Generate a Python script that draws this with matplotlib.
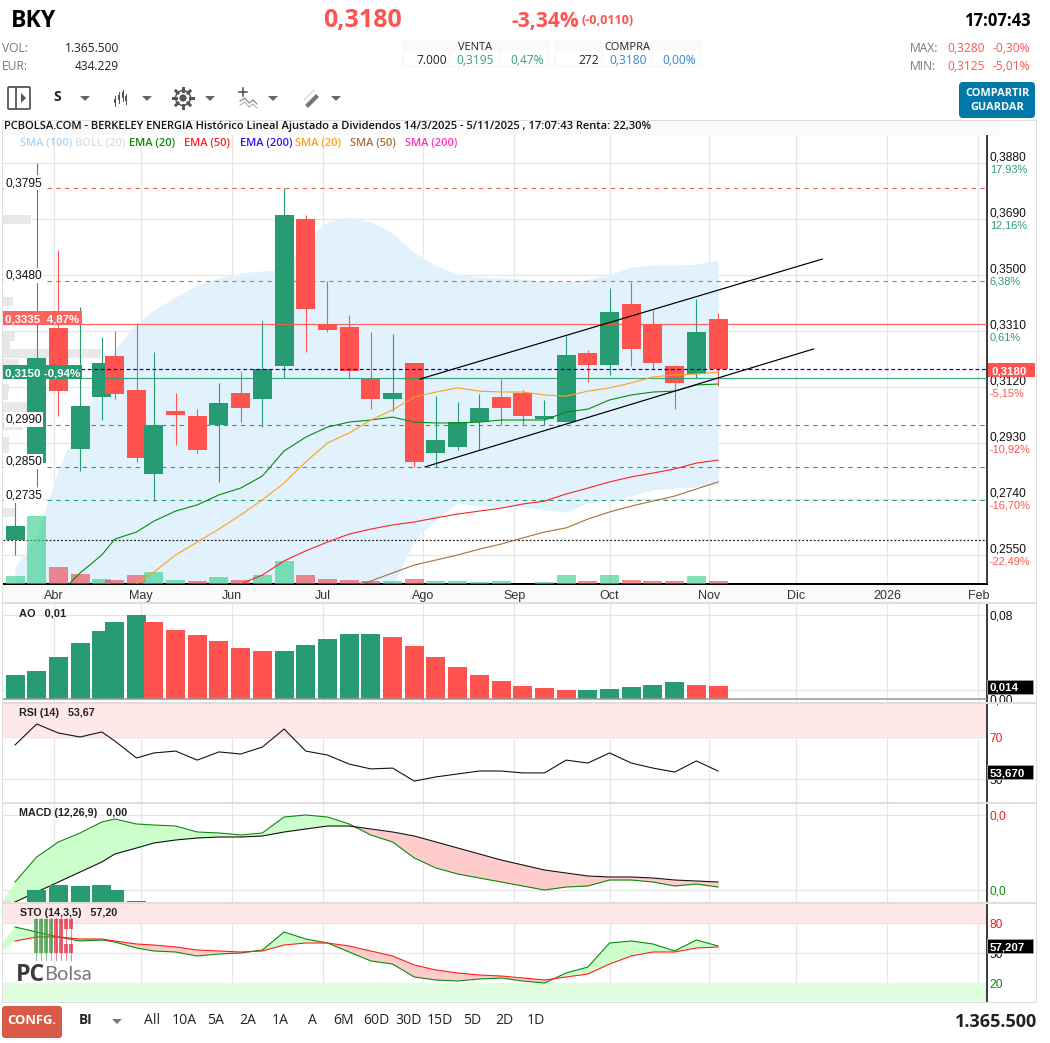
import matplotlib
matplotlib.use("Agg")
import matplotlib.pyplot as plt
import numpy as np
from matplotlib.patches import Rectangle, FancyBboxPatch, Polygon, Circle

W, H = 1050, 1043

# ---------- data ----------
sessions = [0,5,10,15,20,23,28,32,37,42,47,52,57,62,67,72,77,82,87,92,97,102,107,112,117,122,127,132,137,142,147,152,157,162]
opens  = [.2601,.2862,.3320,.2910,.3086,.3225,.3110,.2825,.3039,.3022,.2991,.3100,.3079,.3191,.3690,.3334,.3324,.3147,.3079,.3201,.2896,.2916,.3001,.3086,.3100,.3011,.3001,.3235,.3195,.3402,.3334,.3191,.3164,.3351]
closes = [.2648,.3218,.3106,.3056,.3201,.3096,.2879,.2991,.3025,.2906,.3066,.3049,.3181,.3704,.3385,.3313,.3174,.3079,.3100,.2866,.2940,.3001,.3049,.3049,.3022,.3022,.3229,.3195,.3374,.3249,.3201,.3134,.3307,.3180]
highs  = [.2735,.3880,.3585,.3391,.3290,.3310,.3337,.3239,.3100,.3045,.3134,.3174,.3344,.3795,.3704,.3480,.3364,.3307,.3300,.3201,.3089,.3069,.3096,.3147,.3110,.3076,.3293,.3246,.3456,.3476,.3381,.3195,.3419,.3371]
lows   = [.2550,.2781,.3022,.2835,.3008,.3079,.2866,.2733,.2923,.2896,.2798,.3001,.2984,.3151,.3239,.3307,.3151,.3045,.3039,.2849,.2849,.2906,.2906,.2991,.2991,.2991,.3001,.3137,.3161,.3191,.3181,.3045,.3151,.3123]
volume_m = [3.6,30.9,7.7,4.6,2.3,1.8,4.1,5.5,1.8,1.4,3.2,1.8,4.1,10.5,4.1,2.3,1.8,1.4,1.4,2.3,1.4,1.4,.9,1.4,0,.9,4.1,1.4,4.1,1.8,1.4,1.4,3.6,1.4]
volume_up = [1,1,0,0,1,0,0,1,1,0,1,0,1,1,0,0,0,0,1,0,1,1,1,1,1,1,1,0,1,0,0,0,1,0]
band_upper = [.2509,.2618,.2838,.3008,.3134,.3246,.3337,.3381,.3425,.3466,.3490,.3507,.3514,.3517,.3619,.3680,.3697,.3680,.3642,.3575,.3531,.3503,.3493,.3490,.3486,.3480,.3476,.3486,.3500,.3527,.3534,.3534,.3537,.3551]
band_lower = [.2400,.2380,.2300,.2250,.2200,.2180,.2150,.2120,.2100,.2100,.2120,.2150,.2180,.2200,.2220,.2250,.2300,.2350,.2441,.2601,.2669,.2726,.2716,.2713,.2713,.2703,.2696,.2726,.2737,.2750,.2771,.2777,.2781,.2787]
nan = float('nan')
ema20 = [nan,nan,.2415,.2489,.2550,.2604,.2628,.2665,.2699,.2720,.2754,.2777,.2818,.2903,.2950,.2984,.3001,.3008,.3018,.3001,.2998,.2998,.3001,.3008,.3008,.3008,.3035,.3045,.3076,.3093,.3103,.3106,.3127,.3130]
sma20 = [nan,nan,nan,nan,nan,nan,.2455,.2492,.2550,.2594,.2638,.2686,.2737,.2794,.2866,.2930,.2964,.3008,.3042,.3086,.3103,.3117,.3106,.3103,.3103,.3093,.3089,.3106,.3117,.3134,.3154,.3161,.3164,.3171]
ema50 = [nan]*10+[.2420,.2452,.2482,.2530,.2564,.2594,.2621,.2638,.2652,.2662,.2676,.2689,.2699,.2709,.2723,.2733,.2757,.2777,.2798,.2815,.2828,.2842,.2862,.2872]
sma50 = [nan]*16+[.2441,.2462,.2489,.2516,.2533,.2550,.2570,.2587,.2608,.2628,.2642,.2672,.2696,.2716,.2733,.2750,.2774,.2798]
price_levels_red = [.3795,.3480]
price_levels_green = [.2990,.2850,.2735]
price_last = .3180
price_ref_red = .3335
price_ref_green = .3150
price_dotted = .2601
channel_upper = ([93.3,186],[.3147,.3554])
channel_lower = ([94.5,184],[.2849,.3249])
right_prices = [.3880,.3690,.3500,.3310,.3120,.2930,.2740,.2550]
right_labels = ['0,3880','0,3690','0,3500','0,3310','0,3120','0,2930','0,2740','0,2550']
right_pcts = ['17,93%','12,16%','6,38%','0,61%','-5,15%','-10,92%','-16,70%','-22,49%']
profile_prices = [.3690,.3410,.3290,.3265,.3235,.3200,.3115,.3090,.3055,.3025,.2990,.2935,.2910,.2695]
profile_size = [28,10,12,7,98,16,6,5,27,27,20,6,6,12]
month_sessions = [9,29,50,71,94,115,137,160,180,201,222]
month_labels = ['Abr','May','Jun','Jul','Ago','Sep','Oct','Nov','Dic','2026','Feb']
ao = [.0229,.0267,.0400,.0533,.0648,.0733,.0800,.0733,.0657,.0610,.0552,.0486,.0457,.0457,.0514,.0571,.0619,.0619,.0590,.0505,.0400,.0305,.0229,.0171,.0124,.0105,.0086,.0086,.0095,.0114,.0133,.0162,.0133,.0124]
ao_up = [1,1,1,1,1,1,1,0,0,0,0,0,0,1,1,1,1,1,0,0,0,0,0,0,0,0,0,1,1,1,1,1,0,0]
rsi = [66.2,76.2,71.9,70,72.4,68.1,60,62.4,63.3,59,62.9,61.9,65.2,73.8,63.3,61.4,57.1,54.8,55.2,49,51,52.4,53.8,53.8,52.9,52.9,59,57.6,62.4,57.6,55.2,53.3,58.6,53.8]
macd = [.0016,.0066,.0096,.0114,.0136,.0142,.0132,.0130,.0128,.0116,.0114,.0110,.0114,.0146,.0150,.0146,.0132,.0110,.0096,.0064,.0044,.0032,.0024,.0016,.0008,0,.0006,.0008,.0020,.0020,.0016,.0008,.0012,.0006]
signal = [-.0024,-.0004,.0016,.0036,.0056,.0072,.0084,.0094,.0100,.0104,.0106,.0106,.0108,.0116,.0122,.0128,.0128,.0122,.0116,.0108,.0096,.0084,.0072,.0060,.0050,.0040,.0034,.0028,.0026,.0026,.0024,.0020,.0018,.0016]
macd_hist = [0,.0024,.0034,.0032,.0034,.0024,.0002]
sto_k = [76,71,66,62,63,61,55,52,51,47,49,50,53,71,64,60,51,42,39,26,23,22,24,25,22,20,30,36,60,62,59,52,63,57]
sto_d = [62,66,66,64,64,62,59,58,56,53,52,51,52,58,60,60,57,52,47,38,33,30,28,27,25,23,26,29,39,47,51,51,55,56]

# ---------- styles ----------
GREEN = '#279c72'; RED = '#ff5350'; GRID = '#e6e6e6'; SEP = '#dedede'
CHART = ['Liberation Sans']; UI = ['Open Sans', 'DejaVu Sans']
plt.rcParams['font.family'] = UI
px = lambda p: p * 0.72

fig = plt.figure(figsize=(W/100, H/100), dpi=100, facecolor='white')

def box(x0, y0, x1, y1):
    return [x0/W, 1-y1/H, (x1-x0)/W, (y1-y0)/H]

# strip behind the month labels, painted below every axes
fig.add_artist(Rectangle((3/W, 1-602/H), 984/W, 17/H, transform=fig.transFigure, facecolor='#fafafa', lw=0, zorder=-5))

S_PER_PX = 1/4.34
XLIM = ((3-15)*S_PER_PX, (987-15)*S_PER_PX)
BAR_W = 19*S_PER_PX
s = np.array(sessions)

def panel(y0, y1, ylim):
    ax = fig.add_axes(box(3, y0, 987, y1))
    ax.set_xlim(*XLIM); ax.set_ylim(*ylim)
    for sp in ('top', 'left', 'bottom'):
        ax.spines[sp].set_visible(False)
    ax.spines['right'].set_color('black'); ax.spines['right'].set_linewidth(px(1.5))
    ax.yaxis.tick_right()
    ax.set_xticks(month_sessions); ax.set_xticklabels([])
    ax.tick_params(length=0, pad=2, labelsize=px(12))
    ax.grid(True, color=GRID, lw=px(1.2), zorder=0)
    ax.set_axisbelow(True)
    ax.patch.set_visible(False)
    return ax

TICK = dict(family=CHART, fontsize=px(12), color='#111111')

# ---------- price panel ----------
k = 0.019/56
ax = panel(121, 584, (.388-421*k, .388+42*k))
ax.set_xticklabels(month_labels, fontsize=px(12.5), family=CHART, color='#333333')
ax.tick_params(axis='x', pad=4)
ax.spines['bottom'].set_visible(True); ax.spines['bottom'].set_linewidth(px(2)); ax.spines['bottom'].set_color('black')
ax.barh(profile_prices, np.array(profile_size)*S_PER_PX, left=XLIM[0], height=9*k, color='#e8e8e8', zorder=1)
ax.fill_between(s, band_lower, band_upper, color='#e1f2fd', lw=0, zorder=1.2)
for v in price_levels_red:
    ax.axhline(v, color='#e8605c', lw=px(1.1), ls=(0, (4, 4)), zorder=2)
for v in price_levels_green:
    ax.axhline(v, color='#2a9d74', lw=px(1.1), ls=(0, (4, 4)), zorder=2)
ax.axhline(price_dotted, color='#222222', lw=px(1.2), ls=(0, (1.6, 1.6)), zorder=2)

vol_ax = ax.twinx()
vol_ax.set_ylim(0, 463*.455)
vol_ax.set_yticks([]); vol_ax.patch.set_visible(False)
for sp in vol_ax.spines.values():
    sp.set_visible(False)
vol_cols = ['#3ed08f' if u else '#ee4b55' for u in volume_up]
vol_ax.bar(s, volume_m, width=BAR_W, color=vol_cols, alpha=.65, lw=0)

# twinx moved the price ticks to the left, so put them back
ax.yaxis.tick_right()
ax.set_yticks(right_prices)
ax.set_yticklabels(right_labels, va='bottom', **TICK)
ax.tick_params(axis='y', length=0, pad=2)
for p, t, col in zip(right_prices, right_pcts, ['#2a9d74']*4+['#ff5350']*4):
    ax.annotate(t, xy=(1, p), xycoords=('axes fraction', 'data'), xytext=(2, -1), textcoords='offset points',
                va='top', ha='left', fontsize=px(11), family=CHART, color=col, annotation_clip=False)

# candles sit on a top axes with the same limits, above the volume layer
top = fig.add_axes(box(3, 121, 987, 584))
top.set_xlim(ax.get_xlim()); top.set_ylim(ax.get_ylim()); top.axis('off')
for x, o, c, hi, lo in zip(s, opens, closes, highs, lows):
    col = GREEN if c >= o else RED
    top.vlines(x, lo, hi, color=col, lw=px(1.1), zorder=3)
    top.bar(x, abs(c-o), bottom=min(o, c), width=BAR_W, color=col, lw=0, zorder=3)
top.axhline(price_ref_red, color=RED, lw=px(1.2), alpha=.9, zorder=4)
top.axhline(price_ref_green, color=GREEN, lw=px(1.2), alpha=.9, zorder=4)
top.axhline(price_last, color='#0000cc', lw=px(1.2), ls=(0, (3.2, 2.2)), zorder=4)
top.plot(s, ema20, color='#078a07', lw=px(1.1), zorder=5)
top.plot(s, sma20, color='#ff9f1a', lw=px(1.1), zorder=5)
top.plot(s, ema50, color='#ff2020', lw=px(1.1), zorder=5)
top.plot(s, sma50, color='#a5703a', lw=px(1.1), zorder=5)
top.plot(*channel_upper, color='black', lw=px(1.2), zorder=6)
top.plot(*channel_lower, color='black', lw=px(1.2), zorder=6)

# ---------- AO ----------
a_k = .08/84
ao_ax = panel(604, 702, (-3*a_k, 95*a_k))
ao_ax.set_yticks([.08, 0]); ao_ax.set_yticklabels(['0,08', '0,00'], **TICK)
ao_ax.axhline(.0086, color=GRID, lw=px(1.2), zorder=0)
ao_ax.bar(s, ao, width=BAR_W, color=[GREEN if u else RED for u in ao_up], lw=0, zorder=3)
ao_ax.axhline(0, color='#999999', lw=px(1.5), zorder=4)

# ---------- RSI ----------
rsi_ax = panel(704, 802, (70-65/2.1, 70+33/2.1))
rsi_ax.set_yticks([70, 50]); rsi_ax.set_yticklabels(['70', '50'], **TICK)
rsi_ax.get_yticklabels()[0].set_color('#ee1c1c')
rsi_ax.axhspan(70, 70+33/2.1, color='#fee8e8', lw=0, zorder=1)
rsi_ax.plot(s, rsi, color='#111111', lw=px(1.1), zorder=3)

# ---------- MACD ----------
macd_ax = panel(804, 902, (-.0024, .0172))
macd_ax.set_yticks([.015, 0]); macd_ax.set_yticklabels(['0,0', '0,0'], **TICK)
macd_ax.get_yticklabels()[0].set_color('#ee1c1c'); macd_ax.get_yticklabels()[1].set_color('#0a8a0a')
ms = np.r_[-3, s]; m1 = np.r_[-.0022, macd]; m2 = np.r_[-.0040, signal]
macd_ax.fill_between(ms, m1, m2, where=m1 >= m2, interpolate=True, color='#ccffcc', lw=0, zorder=1)
macd_ax.fill_between(ms, m1, m2, where=m1 <= m2, interpolate=True, color='#ffcccc', lw=0, zorder=1)
macd_ax.plot(s, macd, color='#078a07', lw=px(1.1), zorder=3)
macd_ax.plot(s, signal, color='#111111', lw=px(1.1), zorder=3)
macd_ax.bar(s[:len(macd_hist)], macd_hist, bottom=-.0024, width=BAR_W, color=GREEN, lw=0, zorder=4)

# ---------- STO ----------
sto_ax = panel(904, 1002, (1, 99))
sto_ax.set_yticks([80, 50, 20]); sto_ax.set_yticklabels(['80', '50', '20'], **TICK)
sto_ax.get_yticklabels()[0].set_color('#ee1c1c'); sto_ax.get_yticklabels()[2].set_color('#0a8a0a')
sto_ax.axhspan(80, 99, color='#fee8e8', lw=0, zorder=1)
sto_ax.axhspan(1, 20, color='#e0fde0', lw=0, zorder=1)
ss = np.r_[-3, s]; k1 = np.r_[60, sto_k]; d1 = np.r_[52, sto_d]
sto_ax.fill_between(ss, k1, d1, where=k1 >= d1, interpolate=True, color='#ccffcc', lw=0, zorder=2)
sto_ax.fill_between(ss, k1, d1, where=k1 <= d1, interpolate=True, color='#ffcccc', lw=0, zorder=2)
sto_ax.plot(s, sto_k, color='#078a07', lw=px(1.1), zorder=3)
sto_ax.plot(s, sto_d, color='#ff1c1c', lw=px(1.1), zorder=3)

# ---------- overlay: page furniture ----------
ov = fig.add_axes([0, 0, 1, 1], zorder=10)
ov.set_xlim(0, W); ov.set_ylim(H, 0); ov.axis('off'); ov.patch.set_visible(False)

def T(x, y, t, size=12, color='#111111', ha='left', weight='normal', fam=UI, **kw):
    dy = 1 if fam is CHART else 2
    return ov.text(x, y+dy, t, fontsize=px(size), color=color, ha=ha, va='center', fontweight=weight, family=fam, **kw)
def R(x0, y0, x1, y1, color, z=1, **kw):
    ov.add_patch(Rectangle((x0, y0), x1-x0, y1-y0, facecolor=color, lw=0, zorder=z, **kw))
def RR(x0, y0, x1, y1, color, r=3, z=1):
    ov.add_patch(FancyBboxPatch((x0+r, y0+r), x1-x0-2*r, y1-y0-2*r, boxstyle=f'round,pad={r}', facecolor=color, lw=0, zorder=z))
def tri(cx, cy=98, color='#666666'):
    ov.add_patch(Polygon([(cx-5, cy-2), (cx+5, cy-2), (cx, cy+3)], facecolor=color, lw=0))

# frames
R(3, 120, 1037, 121, SEP); R(3, 121, 1000, 135, '#fafafa')
for y in (603, 703, 802.5, 903):
    R(3, y-1, 1037, y+1, SEP)
R(2, 120, 3.2, 1003, SEP); R(1036, 120, 1037.2, 1003, SEP); R(3, 1002, 1037, 1003.2, SEP)

# header
T(11, 19, 'BKY', 23, '#000000', weight='bold')
T(362, 19, '0,3180', 25, RED, 'center', 'bold')
T(545, 19, '-3,34%', 21, RED, 'center', 'bold')
T(608, 19, '(-0,0110)', 12.5, RED, 'center', 'bold')
T(1031, 19, '17:07:43', 16.5, '#000000', 'right', 'bold')
T(2, 47, 'VOL:', 12, '#777777'); T(119, 47, '1.365.500', 12, '#222222', 'right')
T(2, 65, 'EUR:', 12, '#777777'); T(119, 65, '434.229', 12, '#222222', 'right')
T(910, 47, 'MAX:', 12, '#777777'); T(985, 47, '0,3280', 12, RED, 'right'); T(1030, 47, '-0,30%', 12, RED, 'right')
T(910, 65, 'MIN:', 12, '#777777'); T(985, 65, '0,3125', 12, RED, 'right'); T(1030, 65, '-5,01%', 12, RED, 'right')
RR(401, 40, 550, 68, '#fafafa'); RR(553, 40, 702, 68, '#fafafa')
for a, b in ((404, 448), (452, 497), (501, 546), (556, 600), (604, 649), (653, 698)):
    R(a, 51, b, 65, 'white', 2)
T(475, 45, 'VENTA', 11, '#222222', 'center'); T(627, 45, 'COMPRA', 11, '#222222', 'center')
T(447, 59, '7.000', 12, '#222222', 'right', zorder=3); T(494, 59, '0,3195', 12, '#36a27a', 'right', zorder=3); T(544, 59, '0,47%', 12, '#36a27a', 'right', zorder=3)
T(599, 59, '272', 12, '#222222', 'right', zorder=3); T(647, 59, '0,3180', 12, '#2e86de', 'right', zorder=3); T(696, 59, '0,00%', 12, '#2e86de', 'right', zorder=3)
RR(959, 82, 1035, 118, '#0079a8', 4)
T(997, 92, 'COMPARTIR', 11, 'white', 'center', 'bold', zorder=3); T(997, 106, 'GUARDAR', 11, 'white', 'center', 'bold', zorder=3)

# toolbar
ov.add_patch(FancyBboxPatch((9, 88), 20, 20, boxstyle='round,pad=1', fill=False, ec='#555555', lw=px(1.8)))
ov.plot([15.5, 15.5], [87, 109], color='#555555', lw=px(1.8))
ov.add_patch(Polygon([(21, 93), (26, 98), (21, 103)], facecolor='#555555', lw=0))
T(57, 95, 'S', 14, '#222222', 'center', 'bold')
for c in (85, 147, 210, 273, 336):
    tri(c)
for x, a, b, c0, d0 in ((115, 99, 103, 96, 106), (119, 95, 100, 92, 103), (123, 92, 98, 90, 101), (126, 96, 101, 94, 104)):
    ov.plot([x, x], [c0, d0], color='#555555', lw=px(1))
    R(x-1, a, x+1, b, '#555555')
ang = np.deg2rad(np.arange(0, 360, 45))
for t in ang:
    ov.plot([183+7*np.cos(t), 183+10*np.cos(t)], [98+7*np.sin(t), 98+10*np.sin(t)], color='#555555', lw=px(3))
ov.add_patch(Circle((183, 98), 7.5, fill=False, ec='#555555', lw=px(1.5)))
ov.add_patch(Circle((183, 98), 3.6, facecolor='#555555', lw=0))
ov.plot([243, 243], [88, 96], color='#444444', lw=px(1.5)); ov.plot([239, 247], [92, 92], color='#444444', lw=px(1.5))
ov.plot([240, 245, 249, 253, 257], [101, 98, 103, 100, 104], color='#777777', lw=px(1))
ov.plot([240, 245, 249, 253, 257], [105, 102, 107, 104, 108], color='#aaaaaa', lw=px(1))
ov.add_patch(Polygon([(305, 105), (316, 94), (319, 97), (308, 108)], facecolor='#777777', lw=0))
ov.plot([304, 314], [100, 90], color='#cccccc', lw=px(1))

# title + legend
T(4, 125, 'PCBOLSA.COM - BERKELEY ENERGIA Histórico Lineal Ajustado a Dividendos 14/3/2025 - 5/11/2025 , 17:07:43 Renta: 22,30%', 11.15, '#111111', weight=600)
for x, t, c in ((20, 'SMA (100)', '#a6d6f8'), (75, 'BOLL (20)', '#dddddd'), (129, 'EMA (20)', '#0a8a0a'), (184, 'EMA (50)', '#ff2020'),
                (240, 'EMA (200)', '#3311ee'), (295, 'SMA (20)', '#ff9f1a'), (350, 'SMA (50)', '#a5703a'), (405, 'SMA (200)', '#ff33bb')):
    T(x, 142, t, 11, c, weight=600)

# level tags
for y, t in ((182, '0,3795'), (275, '0,3480'), (419, '0,2990'), (461, '0,2850'), (495, '0,2735')):
    R(4, y-7.5, 43, y+7.5, 'white', 2)
    T(5, y, t, 12, '#111111', fam=CHART, zorder=3)
R(3, 311, 82, 325, '#ff6360', 2); T(5, 318, '0,3335  4,87%', 11.5, 'white', weight='bold', fam=CHART, zorder=3)
R(3, 365, 82, 379, GREEN, 2); T(5, 372, '0,3150 -0,94%', 11.5, 'white', weight='bold', fam=CHART, zorder=3)
R(988, 363, 1035, 377, '#ff5350', 2); T(991, 370, '0,3180', 11.5, 'white', weight='bold', fam=CHART, zorder=3)
for y, t in ((686.5, '0,014'), (772, '53,670'), (946, '57,207')):
    ov.add_patch(Rectangle((987, y-7), 45.5, 14, facecolor='black', ec='#999999', lw=px(1), zorder=2))
    T(989.5, y, t, 11.5, 'white', weight='bold', fam=CHART, zorder=3)

# panel captions
T(19, 612, 'AO   0,01', 11, '#222222', weight='bold', fam=CHART)
T(19, 712, 'RSI (14)   53,67', 10.7, '#222222', weight='bold', fam=CHART)
T(19, 812, 'MACD (12,26,9)   0,00', 10.7, '#222222', weight='bold', fam=CHART)
T(20, 912, 'STO (14,3,5)   57,20', 10.6, '#222222', weight='bold', fam=CHART)

# logo
for x, col in ((36, '#3f9a3f'), (41, '#3f9a3f'), (46, '#3f9a3f'), (51, '#3f9a3f'), (56, '#e8304a'), (61, '#e8304a')):
    ov.plot([x, x], [918, 960], color=col, lw=px(1), alpha=.6)
    R(x-2, 919, x+2, 953, col, 2, alpha=.75)
for x in (66, 71):
    ov.plot([x, x], [918, 960], color='#e8304a', lw=px(1), alpha=.6)
    R(x-2, 919, x+2, 929, '#e8304a', 2, alpha=.75)
    R(x-2, 944, x+2, 953, '#e8304a', 2, alpha=.75)
T(16, 973, 'PC', 23, '#3c3c3c', weight='bold')
T(44, 973, 'Bolsa', 20, '#777777', fam=['Lato', 'DejaVu Sans'])

# bottom bar
RR(2, 1006, 62, 1038, '#d95a47', 3)
T(32, 1019, 'CONFG.', 13, 'white', 'center', 'bold', zorder=3)
T(86, 1018, 'BI', 13.5, '#222222', 'center', 'bold')
tri(117, 1021, '#777777')
for x, t in zip(range(152, 540, 32), ['All', '10A', '5A', '2A', '1A', 'A', '6M', '60D', '30D', '15D', '5D', '2D', '1D']):
    T(x, 1019, t, 14, '#222222', 'center')
T(1037, 1020, '1.365.500', 18, '#222222', 'right', 'bold')

fig.savefig('out.png', dpi=100, facecolor='white')
